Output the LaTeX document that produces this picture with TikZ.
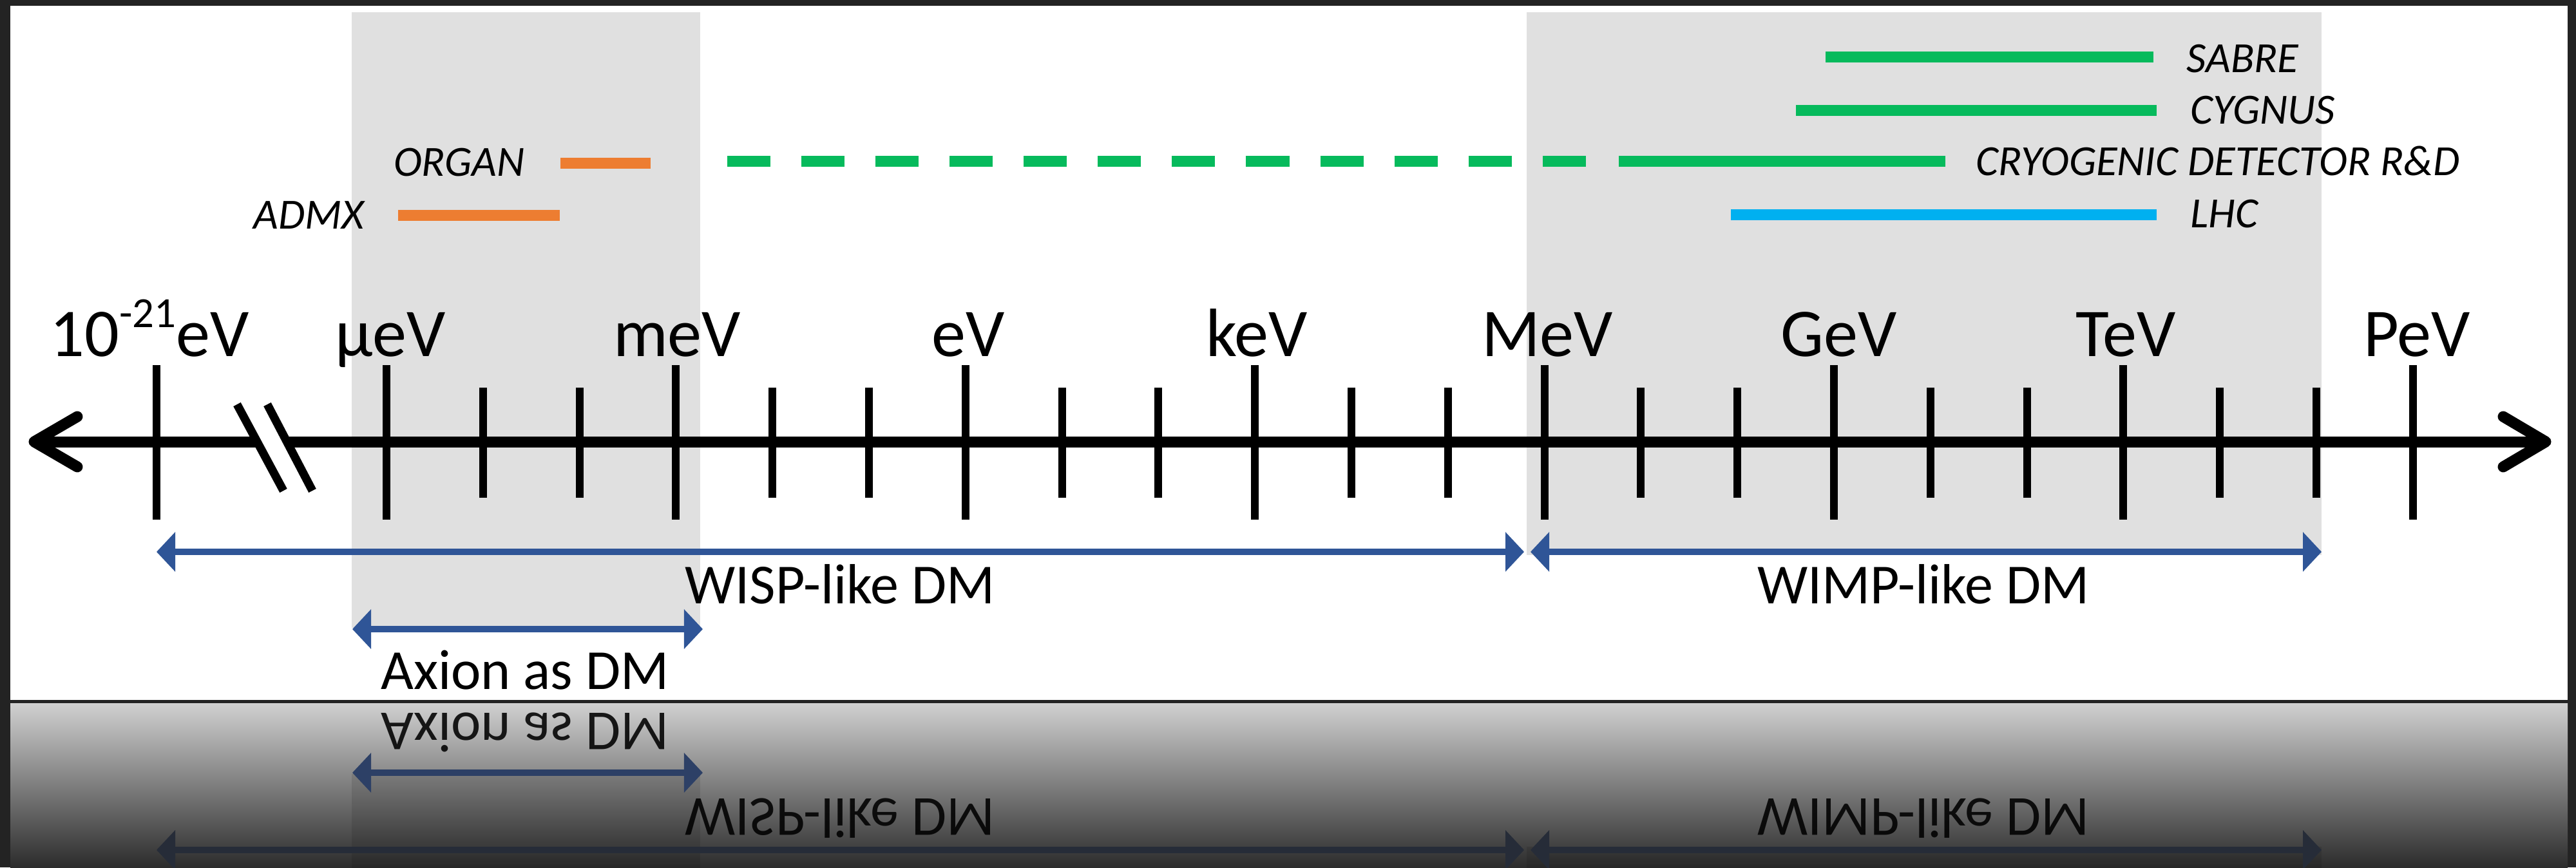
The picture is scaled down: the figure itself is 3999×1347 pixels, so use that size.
\documentclass[tikz,border=0pt]{standalone}
\usepackage{fontspec}
\setmainfont{Carlito}
\usetikzlibrary{arrows.meta}
\definecolor{bgdark}{HTML}{232323}
\definecolor{boxgray}{HTML}{E0E0E0}
\definecolor{dmblue}{HTML}{2F5597}
\definecolor{exorange}{HTML}{ED7D31}
\definecolor{exgreen}{HTML}{06BA5C}
\definecolor{exblue}{HTML}{00B0F0}
\definecolor{refltop}{HTML}{D0D0D0}
\definecolor{reflmid}{HTML}{6F6F6F}
\definecolor{reflbot}{HTML}{2C2C2C}
\definecolor{reflblueA}{HTML}{2D4066}
\definecolor{reflblueB}{HTML}{262C38}
\newcommand{\smallsup}[1]{\raisebox{0.42em}{\fontsize{19pt}{21pt}\selectfont #1}}
\begin{document}
\begin{tikzpicture}[x=0.01cm,y=-0.01cm,
  axisline/.style={line width=0.17cm, black},
  tickmark/.style={line width=0.12cm, black},
  breakmark/.style={line width=0.13cm, black},
  bar/.style={line width=0.17cm},
  dmarrow/.style={line width=0.1cm, {Triangle[length=0.29cm,width=0.6cm]}-{Triangle[length=0.29cm,width=0.6cm]}},
  axlabel/.style={font=\fontsize{30.2pt}{36pt}\selectfont, inner sep=0pt},
  dmlabel/.style={font=\fontsize{25pt}{30pt}\selectfont, inner sep=0pt},
  exlabel/.style={font=\fontsize{19pt}{23pt}\selectfont\itshape, inner sep=0pt},
]
\useasboundingbox (0,0) rectangle (3999,1347);
% background
\fill[bgdark] (0,0) rectangle (3999,1347);
\fill[white] (16,9) rectangle (3986,1087);
% shaded boxes
\fill[boxgray] (546,19) rectangle (1087,975);
\fill[boxgray] (2370,19) rectangle (3604,862);

% reflection area
\shade[top color=refltop, middle color=reflmid, bottom color=reflbot] (16,1092) rectangle (3986,1347);
\begin{scope}
  \clip (16,1092) rectangle (3986,1347);
  \begin{scope}[shift={(0,2177)}, yscale=-1, transform shape]
    \fill[black, opacity=0.1] (546,19) rectangle (1087,975);
    \fill[black, opacity=0.1] (2370,19) rectangle (3604,862);
    \coordinate (rAxL) at (547,977); \coordinate (rAxR) at (1091,977);
    \coordinate (rWiL) at (243,857); \coordinate (rWiR) at (2366,857);
    \coordinate (rWmL) at (2376,857); \coordinate (rWmR) at (3604,857);
    \draw[dmarrow, reflblueA] (rAxL) -- (rAxR);
    \draw[dmarrow, reflblueB] (rWiL) -- (rWiR);
    \draw[dmarrow, reflblueB] (rWmL) -- (rWmR);
    \node[dmlabel, anchor=base, text opacity=0.88] (rAxion) at (815,1070) {Axion as DM};
    \node[dmlabel, anchor=base, text opacity=0.88] (rWisp) at (1304,937) {WISP-like DM};
    \node[dmlabel, anchor=base, text opacity=0.88] (rWimp) at (2986,937) {WIMP-like DM};
  \end{scope}
\end{scope}

% experiment bars
\coordinate (sabreL) at (2834,88);  \coordinate (sabreR) at (3343,88);
\coordinate (cygL) at (2788,171);   \coordinate (cygR) at (3348,171);
\coordinate (cryoDL) at (1129,250); \coordinate (cryoDR) at (2464,250);
\coordinate (cryoL) at (2513,250);  \coordinate (cryoR) at (3020,250);
\coordinate (lhcL) at (2687,333);   \coordinate (lhcR) at (3348,333);
\coordinate (orgL) at (870,253);    \coordinate (orgR) at (1010,253);
\coordinate (admxL) at (618,334);   \coordinate (admxR) at (869,334);
\draw[bar, exgreen] (sabreL) -- (sabreR);
\draw[bar, exgreen] (cygL) -- (cygR);
\draw[bar, exgreen, dash pattern=on 0.67cm off 0.48cm] (cryoDL) -- (cryoDR);
\draw[bar, exgreen] (cryoL) -- (cryoR);
\draw[bar, exblue] (lhcL) -- (lhcR);
\draw[bar, exorange] (orgL) -- (orgR);
\draw[bar, exorange] (admxL) -- (admxR);
\node[exlabel, anchor=base west] (tSabre) at (3394,112) {SABRE};
\node[exlabel, anchor=base west] (tCyg) at (3400,192) {CYGNUS};
\node[exlabel, anchor=base west] (tCryo) at (3067,272) {CRYOGENIC DETECTOR R\&D};
\node[exlabel, anchor=base west] (tLhc) at (3400,353) {LHC};
\node[exlabel, anchor=base east] (tOrg) at (815,273) {ORGAN};
\node[exlabel, anchor=base east] (tAdmx) at (566,355) {ADMX};

% axis
\coordinate (axL) at (53,686);
\coordinate (axR) at (3952,686);
\coordinate (brkA) at (399,686);
\coordinate (brkB) at (445,686);
\draw[axisline] (axL) -- (brkA);
\draw[axisline] (brkB) -- (axR);
\draw[axisline, line join=round, line cap=round] (120,647) -- (axL) -- (120,725);
\draw[axisline, line join=round, line cap=round] (3886,647) -- (axR) -- (3886,725);
\draw[breakmark] (368,628) -- (440,762);
\draw[breakmark] (415,628) -- (485,762);
% ticks
\draw[tickmark] (243,567) -- (243,807);
\foreach \k in {0,...,21}{
  \pgfmathtruncatemacro\m{mod(\k,3)}
  \pgfmathsetmacro\xx{600+149.8*\k}
  \ifnum\m=0
    \draw[tickmark] (\xx,567) -- (\xx,807);
  \else
    \draw[tickmark] (\xx,602) -- (\xx,773);
  \fi
}
% axis labels
\node[axlabel, anchor=base] (l21) at (232,553) {10\smallsup{-21}eV};
\node[axlabel, anchor=base] (lmu) at (606,553) {µeV};
\node[axlabel, anchor=base] (lm) at (1051,553) {meV};
\node[axlabel, anchor=base] (le) at (1503,553) {eV};
\node[axlabel, anchor=base] (lk) at (1951,553) {keV};
\node[axlabel, anchor=base] (lM) at (2402,553) {MeV};
\node[axlabel, anchor=base] (lG) at (2855,553) {GeV};
\node[axlabel, anchor=base] (lT) at (3300,553) {TeV};
\node[axlabel, anchor=base] (lP) at (3752,553) {PeV};

% DM ranges
\coordinate (axionL) at (547,977); \coordinate (axionR) at (1091,977);
\coordinate (wispL) at (243,857);  \coordinate (wispR) at (2366,857);
\coordinate (wimpL) at (2376,857); \coordinate (wimpR) at (3604,857);
\draw[dmarrow, dmblue] (axionL) -- (axionR);
\draw[dmarrow, dmblue] (wispL) -- (wispR);
\draw[dmarrow, dmblue] (wimpL) -- (wimpR);
\node[dmlabel, anchor=base] (tAxion) at (815,1070) {Axion as DM};
\node[dmlabel, anchor=base] (tWisp) at (1304,937) {WISP-like DM};
\node[dmlabel, anchor=base] (tWimp) at (2986,937) {WIMP-like DM};
\end{tikzpicture}
\end{document}
